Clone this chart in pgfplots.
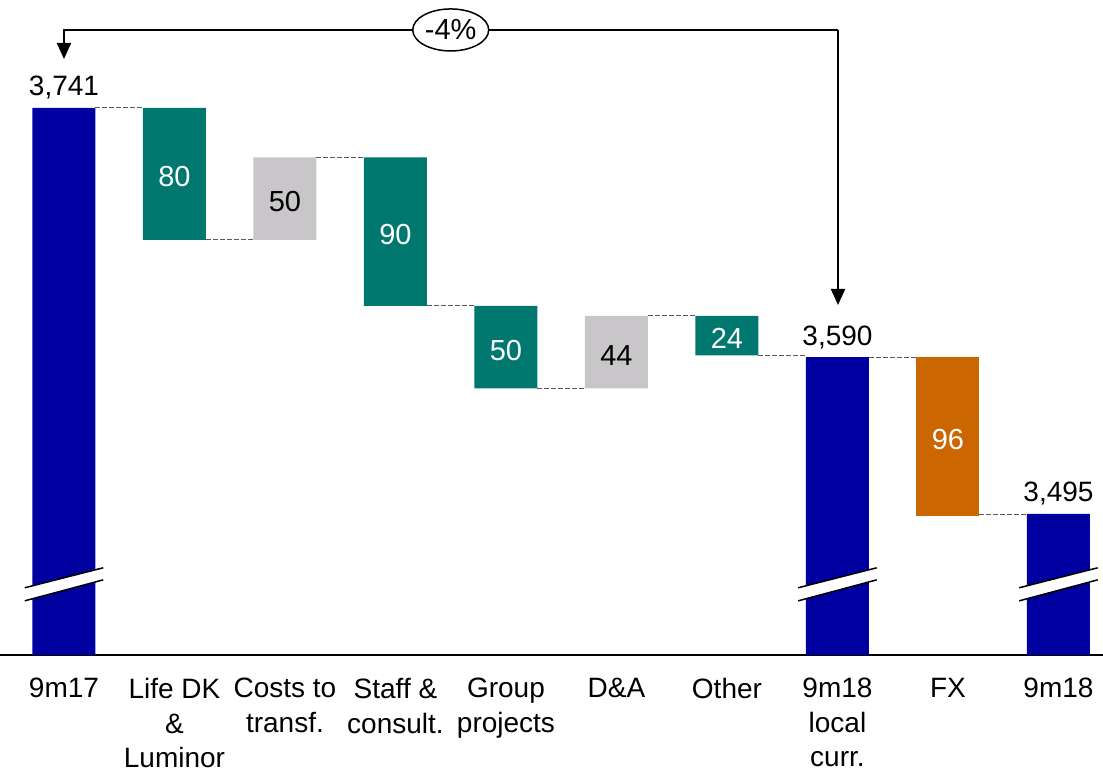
\documentclass[border=0pt]{standalone}
\usepackage{fontspec}
\setmainfont{Liberation Sans}
\usepackage{pgfplots}
\pgfplotsset{compat=1.18}
\usetikzlibrary{arrows.meta,shapes.geometric}
\definecolor{wfblue}{RGB}{0,0,160}
\definecolor{wfteal}{RGB}{0,120,111}
\definecolor{wfgray}{RGB}{200,198,200}
\definecolor{wforange}{RGB}{204,102,0}
\definecolor{connector}{RGB}{90,90,90}
\tikzset{conn/.style={connector, line width=0.5pt, dash pattern=on 2.5pt off 1pt},
  arr/.style={line width=1pt, -{Triangle[width=7pt,length=8pt]}},
  inbar/.style={yshift=-1.5pt, font=\fontsize{14.5}{17}\selectfont}}
\begin{document}
\fontsize{14}{17.25}\selectfont
\begin{tikzpicture}[font=\fontsize{14}{17.25}\selectfont]
\path[use as bounding box] (0,-60.5pt) rectangle (551.5pt,327.5pt);
\begin{axis}[
  at={(0,0)}, anchor=south west,
  scale only axis, width=551.5pt, height=327.5pt,
  xmin=-0.579, xmax=9.403, ymin=3409.5, ymax=3806.5,
  ybar stacked, bar width=31.5pt,
  axis y line=none, axis x line*=bottom,
  x axis line style={-, line width=0.75pt, black},
  xtick={0,1,2,3,4,5,6,7,8,9},
  xticklabels={9m17, Life DK\\\&\\Luminor, Costs to\\transf., Staff \&\\consult., Group\\projects, D\&A, Other, 9m18\\local\\curr., FX, 9m18},
  major tick length=0pt,
  xticklabel style={align=center, inner sep=0pt, anchor=north, yshift=-11.5pt, font=\fontsize{14}{17.25}\selectfont},
  after end axis/.code={
    \draw[conn] (axis cs:0.285,3741) -- (axis cs:0.715,3741);
    \draw[conn] (axis cs:1.285,3661) -- (axis cs:1.715,3661);
    \draw[conn] (axis cs:2.285,3711) -- (axis cs:2.715,3711);
    \draw[conn] (axis cs:3.285,3621) -- (axis cs:3.715,3621);
    \draw[conn] (axis cs:4.285,3571) -- (axis cs:4.715,3571);
    \draw[conn] (axis cs:5.285,3615) -- (axis cs:5.715,3615);
    \draw[conn] (axis cs:6.285,3591) -- (axis cs:6.715,3591);
    \draw[conn] (axis cs:7.285,3590) -- (axis cs:7.715,3590);
    \draw[conn] (axis cs:8.285,3494.5) -- (axis cs:8.715,3494.5);
    \fill[white] (axis cs:-0.355,3442.3) -- (axis cs:0.355,3455) -- (axis cs:0.355,3462.3) -- (axis cs:-0.355,3450.2) -- cycle;
    \draw[line width=0.75pt] (axis cs:-0.355,3442.3) -- (axis cs:0.355,3455);
    \draw[line width=0.75pt] (axis cs:-0.355,3450.2) -- (axis cs:0.355,3462.3);
    \fill[white] (axis cs:6.645,3442.3) -- (axis cs:7.355,3455) -- (axis cs:7.355,3462.3) -- (axis cs:6.645,3450.2) -- cycle;
    \draw[line width=0.75pt] (axis cs:6.645,3442.3) -- (axis cs:7.355,3455);
    \draw[line width=0.75pt] (axis cs:6.645,3450.2) -- (axis cs:7.355,3462.3);
    \fill[white] (axis cs:8.645,3442.3) -- (axis cs:9.355,3455) -- (axis cs:9.355,3462.3) -- (axis cs:8.645,3450.2) -- cycle;
    \draw[line width=0.75pt] (axis cs:8.645,3442.3) -- (axis cs:9.355,3455);
    \draw[line width=0.75pt] (axis cs:8.645,3450.2) -- (axis cs:9.355,3462.3);
    \node[anchor=base, yshift=6pt] at (axis cs:0,3741) {3,741};
    \node[anchor=base, yshift=6pt] at (axis cs:7,3590) {3,590};
    \node[anchor=base, yshift=6pt] at (axis cs:9,3495) {3,495};
    \node[white, inbar] at (axis cs:1,3701) {80};
    \node[black, inbar] at (axis cs:2,3686) {50};
    \node[white, inbar] at (axis cs:3,3666) {90};
    \node[white, inbar] at (axis cs:4,3596) {50};
    \node[black, inbar] at (axis cs:5,3593) {44};
    \node[white, inbar] at (axis cs:6,3603) {24};
    \node[white, inbar] at (axis cs:8,3542) {96};
    \draw[arr] (axis cs:7.005,3788.3) -- (axis cs:7.005,3621.6);
    \draw[line width=1pt] (axis cs:7.005,3788.3) -- (axis cs:3.83,3788.3);
    \draw[arr] (axis cs:3.17,3788.3) -- (axis cs:0,3788.3) -- (axis cs:0,3770.7);
    \node[ellipse, draw, line width=0.75pt, fill=white, minimum width=38pt, minimum height=21pt, inner sep=0pt, font=\fontsize{14.5}{17}\selectfont] at (axis cs:3.5,3788.3) {-4\%};
  },
]
% invisible base
\addplot[draw=none, fill=none] coordinates {(0,0) (1,3661) (2,3661) (3,3621) (4,3571) (5,3571) (6,3591) (7,0) (8,3494) (9,0)};
% totals
\addplot[draw=none, fill=wfblue] coordinates {(0,3741) (1,0) (2,0) (3,0) (4,0) (5,0) (6,0) (7,3590) (8,0) (9,3495)};
% decreases
\addplot[draw=none, fill=wfteal] coordinates {(0,0) (1,80) (2,0) (3,90) (4,50) (5,0) (6,24) (7,0) (8,0) (9,0)};
% increases
\addplot[draw=none, fill=wfgray] coordinates {(0,0) (1,0) (2,50) (3,0) (4,0) (5,44) (6,0) (7,0) (8,0) (9,0)};
% FX
\addplot[draw=none, fill=wforange] coordinates {(0,0) (1,0) (2,0) (3,0) (4,0) (5,0) (6,0) (7,0) (8,96) (9,0)};
\end{axis}
\end{tikzpicture}
\end{document}
